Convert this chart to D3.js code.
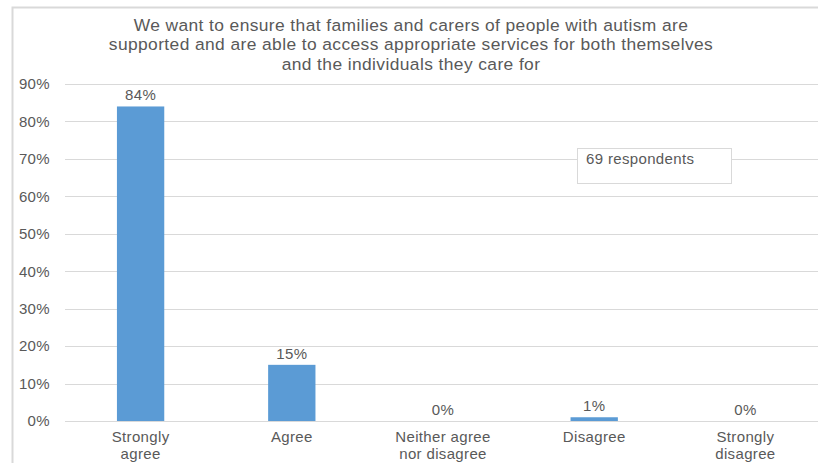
<!DOCTYPE html>
<html>
<head>
<meta charset="utf-8">
<script src="https://cdn.jsdelivr.net/npm/d3@7"></script>
<style>
  html, body { margin: 0; padding: 0; background: #fff; }
  svg { display: block; }
  text { font-family: "Liberation Sans", Arial, sans-serif; fill: #595959; }
</style>
</head>
<body>
<svg id="chart" width="818" height="463"></svg>
<script>
// Survey responses (share of 69 respondents)
const categories = [
  ["Strongly", "agree"],
  ["Agree"],
  ["Neither agree", "nor disagree"],
  ["Disagree"],
  ["Strongly", "disagree"]
];
const values = [0.84, 0.15, 0.00, 0.01, 0.00];
const yTicks = [0, 0.1, 0.2, 0.3, 0.4, 0.5, 0.6, 0.7, 0.8, 0.9];
const titleLines = [
  "We want to ensure that families and carers of people with autism are",
  "supported and are able to access appropriate services for both themselves",
  "and the individuals they care for"
];
const note = "69 respondents";

const svg = d3.select("#chart");
const W = 818, H = 463;
const font = "\"Liberation Sans\", Arial, sans-serif";
const small = "15px";
const smallSpacing = "0.35px";

// Chart area frame
svg.append("rect")
  .attr("x", 12.5).attr("y", 7.5)
  .attr("width", W + 20).attr("height", H + 20)
  .attr("fill", "#fff")
  .attr("stroke", "#d9d9d9").attr("stroke-width", 2);

// Title
svg.append("g").selectAll("text")
  .data(titleLines)
  .join("text")
  .attr("x", 411)
  .attr("y", (d, i) => 30.5 + i * 19.8)
  .attr("text-anchor", "middle")
  .style("font-size", "17.4px")
  .style("letter-spacing", "0.4px")
  .text(d => d);

const plot = { left: 65, right: 821, top: 84, bottom: 421 };

const x = d3.scaleBand()
  .domain(d3.range(values.length))
  .range([plot.left, plot.right])
  .paddingInner(0.687)
  .paddingOuter(0.3435);

const y = d3.scaleLinear()
  .domain([0, 0.9])
  .range([plot.bottom, plot.top]);

// Gridlines
svg.append("g").selectAll("line")
  .data(yTicks)
  .join("line")
  .attr("x1", plot.left).attr("x2", plot.right)
  .attr("y1", d => Math.round(y(d)) + 0.5)
  .attr("y2", d => Math.round(y(d)) + 0.5)
  .attr("stroke", "#d9d9d9").attr("stroke-width", 1);

// Y axis labels
const yAxis = d3.axisLeft(y)
  .tickValues(yTicks)
  .tickFormat(d3.format(".0%"))
  .tickSize(0)
  .tickPadding(15);
const gy = svg.append("g")
  .attr("transform", `translate(${plot.left},0)`)
  .call(yAxis);
gy.select(".domain").remove();
gy.selectAll("text")
  .attr("fill", "#595959")
  .style("font-size", small)
  .style("letter-spacing", smallSpacing)
  .style("font-family", font);

// Bars
svg.append("g").selectAll("rect")
  .data(values)
  .join("rect")
  .attr("x", (d, i) => x(i))
  .attr("width", x.bandwidth())
  .attr("y", d => y(d))
  .attr("height", d => y(0) - y(d))
  .attr("fill", "#5b9bd5");

// Value labels
svg.append("g").selectAll("text")
  .data(values)
  .join("text")
  .attr("x", (d, i) => x(i) + x.bandwidth() / 2)
  .attr("y", d => y(d) - 6)
  .attr("text-anchor", "middle")
  .style("font-size", small)
  .style("letter-spacing", smallSpacing)
  .text(d => d3.format(".0%")(d));

// Category labels, one text element per line
const xAxis = d3.axisBottom(x).tickSize(0).tickFormat("");
const gx = svg.append("g")
  .attr("transform", `translate(0,${plot.bottom})`)
  .call(xAxis);
gx.select(".domain").remove();
gx.selectAll(".tick").each(function (i) {
  d3.select(this).selectAll("text.cat")
    .data(categories[i])
    .join("text")
    .attr("class", "cat")
    .attr("x", 0)
    .attr("y", (line, k) => 21 + k * 17)
    .attr("text-anchor", "middle")
    .attr("fill", "#595959")
    .style("font-size", small)
    .style("letter-spacing", smallSpacing)
    .style("font-family", font)
    .text(line => line);
});

// Respondent count note
svg.append("rect")
  .attr("x", 577.5).attr("y", 148.5)
  .attr("width", 154).attr("height", 35)
  .attr("fill", "#fff")
  .attr("stroke", "#d9d9d9");
svg.append("text")
  .attr("x", 586).attr("y", 164)
  .style("font-size", small)
  .style("letter-spacing", smallSpacing)
  .text(note);
</script>
</body>
</html>
